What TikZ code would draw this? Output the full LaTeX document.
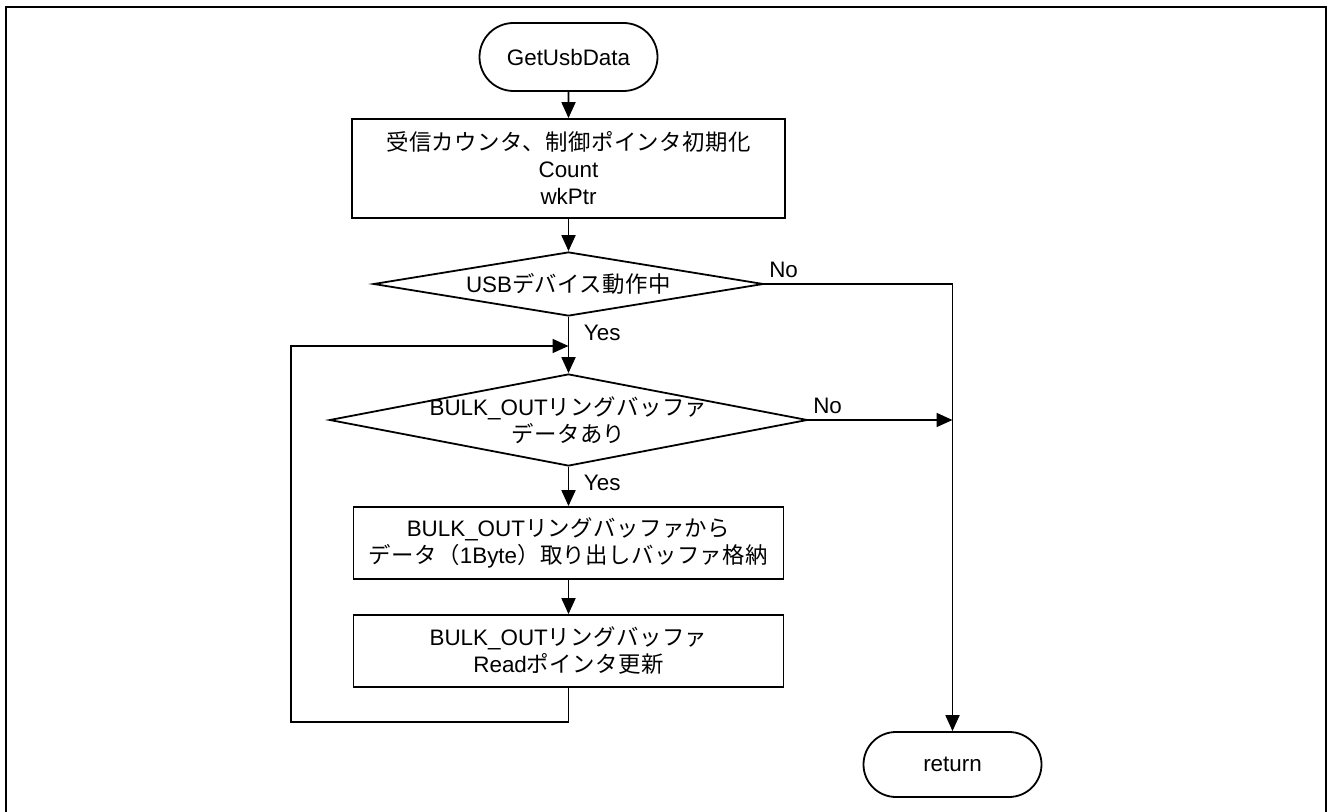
\documentclass[tikz,border=0pt]{standalone}
\usepackage{fontspec}
\setmainfont{Liberation Sans}
\newfontfamily\jpfont[LetterSpace=2]{Noto Sans CJK JP}
\newcommand{\ja}[1]{{\jpfont #1}}
\usepackage{tikz}
\usetikzlibrary{positioning}
\usetikzlibrary{arrows.meta}
\usetikzlibrary{shapes}

\begin{document}
\begin{tikzpicture}[x=0.5pt, y=-0.5pt, >={Triangle[length=8pt,width=7pt]}, line width=0.9pt,
every node/.style={font=\fontsize{11.2}{13.5}\selectfont},
term/.style={draw, rounded rectangle, inner sep=0pt, minimum width=89pt, minimum height=#1},
proc/.style={draw, rectangle, align=center, inner sep=0pt, minimum width=215pt, minimum height=36pt},
decide/.style={draw, diamond, inner sep=0pt},
yes/.style={anchor=west, inner sep=0pt},
no/.style={anchor=south west, inner sep=0pt, xshift=2pt, yshift=2.8pt}]

\useasboundingbox (0,0) rectangle (1328,812);
\draw (6,7) rectangle (1326,830);

\node [term=34pt] (start) at (568.5,57) {GetUsbData};
\node [proc, minimum width=216.5pt, minimum height=49.5pt] (init) at (568.5,168.5)
  {\ja{受信カウンタ、制御ポインタ初期化}\\Count\\wkPtr};

\node [decide, minimum width=195pt, minimum height=32pt] (usb) at (568.5,284) {};
\node at (usb) {USB\ja{デバイス動作中}};

\node [decide, minimum width=239pt, minimum height=46pt] (ring) at (568.5,420) {};
\node [align=center] at (ring) {BULK\_OUT\ja{リングバッファ}\\\ja{データあり}};

\node [proc] (copy) at (568.5,543)
  {BULK\_OUT\ja{リングバッファから}\\\ja{データ（}1Byte\ja{）取り出しバッファ格納}};
\node [proc] (upd) at (568.5,651)
  {BULK\_OUT\ja{リングバッファ}\\Read\ja{ポインタ更新}};

\node [term=32.5pt] (ret) at (952.5,764.5) {return};

\coordinate (join) at (568.5,346);
\coordinate (back) at (291,722);

\draw[->] (start) -- (init);
\draw[->] (init) -- (usb);
\draw (usb.south) -- (join);
\draw[->] (join) -- (ring.north);
\draw[->] (ring) -- (copy);
\draw[->] (copy) -- (upd);
\draw[->] (upd.south) |- (back) |- (join);

\draw[->] (usb.east) -| (ret.north);
\draw[->] (ring.east) -- (ring.east -| ret.north);

\node [yes] (yes1) at (583,333) {Yes};
\node [yes] (yes2) at (583,483) {Yes};
\node [no] (no1) at (usb.east) {No};
\node [no] (no2) at (ring.east) {No};

\end{tikzpicture}
\end{document}
